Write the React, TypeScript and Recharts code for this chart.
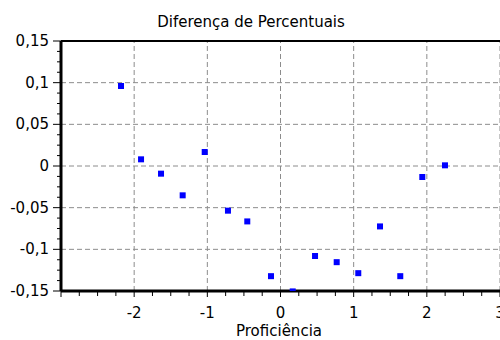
import React from 'react';
import { ScatterChart, Scatter, XAxis, YAxis, ReferenceLine } from 'recharts';

const proficiencia = [-2.18, -1.906, -1.633, -1.337, -1.036, -0.718, -0.454, -0.13, 0.167, 0.472, 0.768, 1.063, 1.36, 1.637, 1.938, 2.248];
const diferenca = [0.096, 0.008, -0.0092, -0.0352, 0.0168, -0.0536, -0.0665, -0.1322, -0.1505, -0.108, -0.1154, -0.1286, -0.0725, -0.1322, -0.0132, 0.0008];

const xMajorTicks = [-3, -2, -1, 0, 1, 2, 3];
const xMajorLabels = ['', '-2', '-1', '0', '1', '2', '3'];
const yMajorTicks = [-0.15, -0.1, -0.05, 0, 0.05, 0.1, 0.15];
const yMajorLabels = ['-0,15', '-0,1', '-0,05', '0', '0,05', '0,1', '0,15'];
const xGridValues = [-2, -1, 0, 1, 2, 3];
const yGridValues = [-0.1, -0.05, 0, 0.05, 0.1];

const title = 'Diferença de Percentuais';
const xTitle = 'Proficiência';

const subdivide = (major: number[], parts: number) => {
  const out: number[] = [];
  for (let i = 0; i < major.length - 1; i++) {
    const step = (major[i + 1] - major[i]) / parts;
    for (let k = 0; k < parts; k++) out.push(major[i] + k * step);
  }
  out.push(major[major.length - 1]);
  return out;
};

const xTicks = subdivide(xMajorTicks, 4);
const yTicks = subdivide(yMajorTicks, 4);

const data = proficiencia.map((x, i) => ({ x, y: diferenca[i] }));

const FONT = 'DejaVu Sans';

const findMajor = (arr: number[], v: number) => arr.findIndex((m) => Math.abs(m - v) < 1e-9);

const YTick = (props: any) => {
  const { x, y, payload } = props;
  const idx = findMajor(yMajorTicks, payload.value);
  const major = idx >= 0;
  return (
    <g>
      <line x1={x - (major ? 8 : 4)} x2={x} y1={y} y2={y} stroke="#000" strokeWidth={1} />
      {major && (
        <text x={x - 12} y={y + 5} textAnchor="end" fontFamily={FONT} fontSize={15} fill="#000">
          {yMajorLabels[idx]}
        </text>
      )}
    </g>
  );
};

const XTick = (props: any) => {
  const { x, y, payload } = props;
  const idx = findMajor(xMajorTicks, payload.value);
  const major = idx >= 0;
  return (
    <g>
      <line x1={x} x2={x} y1={y} y2={y + (major ? 6 : 5)} stroke="#000" strokeWidth={1} />
      {major && (
        <text x={x} y={y + 27} textAnchor="middle" fontFamily={FONT} fontSize={15} fill="#000">
          {xMajorLabels[idx]}
        </text>
      )}
    </g>
  );
};

const Square = (p: any) => <rect x={p.cx - 3} y={p.cy - 3} width={6} height={6} fill="#0000ff" />;

export default function App() {
  return (
    <div style={{ position: 'absolute', left: 0, top: 0, width: 500, height: 340, background: '#fff' }}>
      <ScatterChart width={500} height={340} margin={{ top: 41, right: 0, bottom: 0, left: 0 }} style={{ fontFamily: FONT }}>
        {xGridValues.map((v) => (
          <ReferenceLine key={'gx' + v} x={v} stroke="#8c8c8c" strokeDasharray="5 3" strokeWidth={1} />
        ))}
        {yGridValues.map((v) => (
          <ReferenceLine key={'gy' + v} y={v} stroke="#8c8c8c" strokeDasharray="5 3" strokeWidth={1} />
        ))}
        <ReferenceLine y={0.15} stroke="#000" strokeWidth={2} />
        <XAxis
          type="number"
          dataKey="x"
          domain={[-3, 3]}
          ticks={xTicks}
          interval={0}
          allowDataOverflow
          height={49}
          tickSize={0}
          tickMargin={0}
          tickLine={false}
          axisLine={{ stroke: '#000', strokeWidth: 3 }}
          tick={<XTick />}
        />
        <YAxis
          type="number"
          dataKey="y"
          domain={[-0.15, 0.15]}
          ticks={yTicks}
          interval={0}
          allowDataOverflow
          width={61}
          tickSize={0}
          tickMargin={0}
          tickLine={false}
          axisLine={{ stroke: '#000', strokeWidth: 3 }}
          tick={<YTick />}
        />
        <Scatter data={data} isAnimationActive={false} shape={<Square />} />
        <text x={251} y={27} textAnchor="middle" fontFamily={FONT} fontSize={15} fill="#000">
          {title}
        </text>
        <text x={279} y={336} textAnchor="middle" fontFamily={FONT} fontSize={15} fill="#000">
          {xTitle}
        </text>
      </ScatterChart>
    </div>
  );
}
